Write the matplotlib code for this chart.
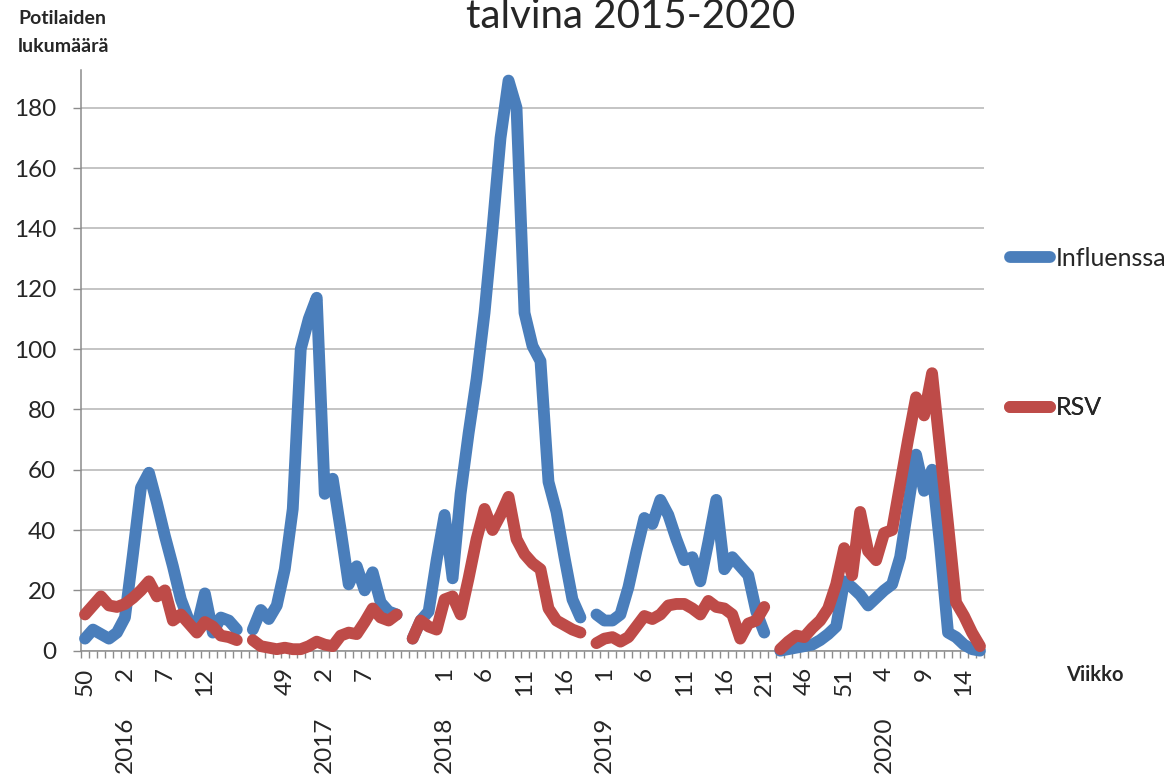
import numpy as np
import matplotlib
matplotlib.use("Agg")
import matplotlib.pyplot as plt
from matplotlib.lines import Line2D

plt.rcParams['font.family'] = ['Lato', 'DejaVu Sans']

# Week numbers of each winter season (x-axis categories)
weeks_2016 = [50, 51, 52, 53, 1, 2, 3, 4, 5, 6, 7, 8, 9, 10, 11, 12, 13, 14, 15, 16]
weeks_2017 = [45, 46, 47, 48, 49, 50, 51, 52, 1, 2, 3, 4, 5, 6, 7, 8, 9, 10, 11]
weeks_2018 = [49, 50, 51, 52, 1, 2, 3, 4, 5, 6, 7, 8, 9, 10, 11, 12, 13, 14, 15, 16, 17, 18]
weeks_2019 = [52, 1, 2, 3, 4, 5, 6, 7, 8, 9, 10, 11, 12, 13, 14, 15, 16, 17, 18, 19, 20, 21]
weeks_2020 = [43, 44, 45, 46, 47, 48, 49, 50, 51, 52, 1, 2, 3, 4, 5, 6, 7, 8, 9, 10,
              11, 12, 13, 14, 15, 16]

# Number of patients per week: influenza
influenza_2016 = [4, 7, 5.5, 4, 6, 11, 32, 54, 59, 49, 38, 28, 17, 10, 8, 19, 6, 11, 10, 7]
influenza_2017 = [7, 13.5, 10.5, 15, 27, 47, 100, 110, 117, 52, 57, 40, 22, 28, 20, 26, 16, 13, 12]
influenza_2018 = [4, 10, 13, 30, 45, 24, 52, 72, 90, 112, 140, 170, 189, 180, 112, 101, 96,
                  56, 46, 31, 17, 11]
influenza_2019 = [12, 10, 10, 12, 21, 33, 44, 42, 50, 45, 37, 30, 31, 23, 36, 50, 27, 31, 28,
                  25, 13, 6]
influenza_2020 = [0, 0.5, 1, 1.5, 2, 3.5, 5.5, 8, 23, 21, 18.5, 15, 17.5, 20, 22, 31, 48, 65,
                  53, 60, 35, 6, 4.5, 2, 0.5, 0]

# Number of patients per week: RSV
rsv_2016 = [12, 15, 18, 15, 14.5, 15.5, 17.5, 20, 23, 18, 20, 10, 12, 9, 6, 9.5, 8, 5, 4.5, 3.5]
rsv_2017 = [3.5, 1.5, 1, 0.5, 1, 0.5, 0.5, 1.5, 3, 2, 1.5, 5, 6, 5.5, 9.5, 14, 11, 10, 12]
rsv_2018 = [4, 10, 8, 7, 17, 18, 12, 24, 37, 47, 40, 45, 51, 37, 32, 29, 27, 14, 10, 8.5, 7, 6]
rsv_2019 = [2.5, 4, 4.5, 3, 4.5, 8, 11.5, 10.5, 12, 15, 15.5, 15.5, 14, 12, 16.5, 14.5, 14, 12,
            4, 9, 10, 14.5]
rsv_2020 = [0.5, 3, 5, 4.5, 7.5, 10, 14, 22, 34, 25, 46, 33, 30, 39, 40, 55, 70, 84, 78, 92,
            67, 42, 16, 11.5, 6, 1.5]

season_years = ["2016", "2017", "2018", "2019", "2020"]
year_label_weeks = [2, 2, 1, 1, 4]

series_labels = ["Influenssa", "RSV"]
y_ticks = [0, 20, 40, 60, 80, 100, 120, 140, 160, 180]

season_weeks = [weeks_2016, weeks_2017, weeks_2018, weeks_2019, weeks_2020]
season_flu = [influenza_2016, influenza_2017, influenza_2018, influenza_2019, influenza_2020]
season_rsv = [rsv_2016, rsv_2017, rsv_2018, rsv_2019, rsv_2020]

# Concatenate the seasons, leaving one empty category between them
categories, flu, rsv, year_pos = [], [], [], []
for k, (wk, fv, rv) in enumerate(zip(season_weeks, season_flu, season_rsv)):
    if k > 0:
        categories.append("")
        flu.append(np.nan)
        rsv.append(np.nan)
    start = len(categories)
    year_pos.append(start + wk.index(year_label_weeks[k]))
    categories += [str(w) for w in wk]
    flu += fv
    rsv += rv

x = np.arange(len(categories))
flu = np.array(flu, dtype=float)
rsv = np.array(rsv, dtype=float)

BLUE = "#4A7EBB"
RED = "#BE4B48"
AXIS_GREY = "#8c8c8c"
TEXT = "#262626"
LW = 8.5

W, H = 1176, 777
fig = plt.figure(figsize=(W / 100, H / 100), dpi=100)
ax = fig.add_axes([81 / W, (H - 650.7) / H, 903 / W, 580.7 / H])

ax.plot(x, flu, color=BLUE, lw=LW, solid_capstyle="round", solid_joinstyle="round",
        zorder=3, clip_on=False)
ax.plot(x, rsv, color=RED, lw=LW, solid_capstyle="round", solid_joinstyle="round",
        zorder=4, clip_on=False)

ax.set_xlim(-0.5, len(categories) - 0.5)
ax.set_ylim(0, 192.5)

# y axis
ax.set_yticks(y_ticks)
ax.yaxis.grid(True, color="#b4b4b4", lw=1.1)
ax.set_axisbelow(True)
ax.tick_params(axis="y", direction="out", length=6, width=1, color=AXIS_GREY,
               labelsize=17.5, labelcolor=TEXT, pad=12)

# x axis: tick marks between categories, labels on every fifth category
major = np.arange(0, len(categories), 5)
ax.set_xticks(major)
ax.set_xticklabels([categories[i] for i in major])
ax.set_xticks(np.arange(-0.5, len(categories), 1), minor=True)
ax.tick_params(axis="x", which="major", length=0, pad=12, labelsize=17.5,
               labelcolor=TEXT, labelrotation=90)
ax.tick_params(axis="x", which="minor", direction="out", length=5, width=1, color=AXIS_GREY)

for side in ("top", "right"):
    ax.spines[side].set_visible(False)
for side in ("left", "bottom"):
    ax.spines[side].set_color(AXIS_GREY)
    ax.spines[side].set_linewidth(1.1)

# Year under the first labelled week of each season
for year, pos in zip(season_years, year_pos):
    ax.annotate(year, xy=(pos, 0), xycoords=("data", "axes fraction"),
                xytext=(0, -47.5), textcoords="offset points", rotation=90,
                ha="center", va="top", fontsize=17.5, color=TEXT)

# Legend entries on the right
legend_y = [258, 408]
for line_color, label, ly in zip([BLUE, RED], series_labels, legend_y):
    handle = Line2D([], [], color=line_color, lw=LW, solid_capstyle="round")
    leg = ax.legend(handles=[handle], labels=[label], loc="center left",
                    bbox_to_anchor=(1010 / W, 1 - ly / H), bbox_transform=fig.transFigure,
                    frameon=False, borderpad=0, borderaxespad=0, handlelength=1.6,
                    handletextpad=0.25, fontsize=18)
    for t in leg.get_texts():
        t.set_color(TEXT)
    ax.add_artist(leg)

fig.text(631 / W, 1 - 28 / H, "talvina 2015-2020", fontsize=29, ha="center",
         va="baseline", color=TEXT)
fig.text(18 / W, 1 - 19 / H, "Potilaiden", fontsize=14, fontweight="bold",
         ha="left", va="center", color=TEXT)
fig.text(18 / W, 1 - 46 / H, "lukumäärä", fontsize=14, fontweight="bold",
         ha="left", va="center", color=TEXT)
fig.text(1095 / W, 1 - 675 / H, "Viikko", fontsize=14.5, fontweight="bold",
         ha="center", va="center", color=TEXT)

fig.savefig("out.png", dpi=100, facecolor="white")
